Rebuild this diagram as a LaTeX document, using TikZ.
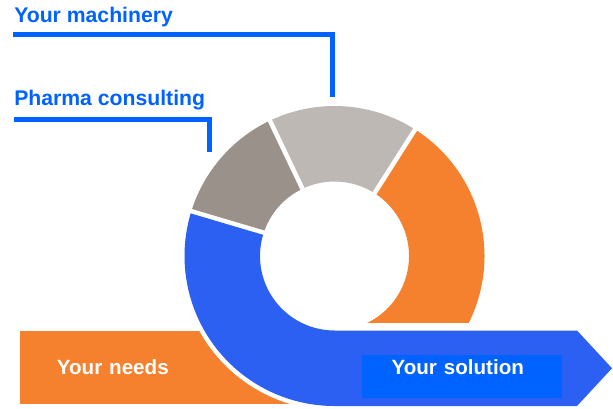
\documentclass[tikz,border=0pt]{standalone}
\usepackage{fontspec}
\setmainfont{Liberation Sans}
\usepackage{tikz}
\usetikzlibrary{calc}
\definecolor{needorange}{HTML}{F5812E}
\definecolor{bandblue}{HTML}{2B60F3}
\definecolor{brightblue}{HTML}{0062FF}
\definecolor{darkstone}{HTML}{9A918A}
\definecolor{lightstone}{HTML}{BDB8B3}
\tikzstyle{heading} = [anchor=base west, inner sep=0pt, text=brightblue, font=\fontsize{15.9pt}{18pt}\selectfont\bfseries]
\tikzstyle{lead} = [draw=brightblue, line width=3.4pt, line cap=butt, miter limit=4]
\tikzstyle{gap} = [draw=white, line width=3.4pt]
\tikzstyle{tab} = [text=white, font=\fontsize{15.45pt}{18pt}\selectfont\bfseries]

\begin{document}
\begin{tikzpicture}[x=0.75pt, y=0.75pt]
  \useasboundingbox (0,0) rectangle (613,408);
  \coordinate (hub) at (334.5,152);
  % left tab
  \node (needs) at (20,40.5) [tab, anchor=west, fill=needorange, inner xsep=27.5pt, inner ysep=0pt,
    text width=177.45pt, align=left, text height=11.1pt, text depth=0pt, minimum height=54.75pt] {Your needs};
  % ring
  \fill[darkstone] ($(hub)+(163.5:150)$) arc[start angle=163.5, end angle=115.5, radius=150]
    -- ($(hub)+(115.5:74.5)$) arc[start angle=115.5, end angle=163.5, radius=74.5] -- cycle;
  \fill[lightstone] ($(hub)+(115.5:150)$) arc[start angle=115.5, end angle=57.5, radius=150]
    -- ($(hub)+(57.5:74.5)$) arc[start angle=57.5, end angle=115.5, radius=74.5] -- cycle;
  \fill[needorange] ($(hub)+(57.5:150)$) arc[start angle=57.5, end angle=-26.5, radius=150]
    -- ($(hub)+(-64:74.5)$) arc[start angle=-64, end angle=57.5, radius=74.5] -- cycle;
  \draw[gap] ($(hub)+(115.5:70)$) -- ($(hub)+(115.5:156)$);
  \draw[gap] ($(hub)+(57.5:70)$) -- ($(hub)+(57.5:156)$);
  % blue band and arrow
  \fill[bandblue, preaction={draw=white, line width=6.75pt}] ($(hub)+(163.5:150)$)
    arc[start angle=163.5, end angle=270, radius=150]
    -- (577,2) -- (612,39.75) -- (577,77.5) -- (334.5,77.5)
    arc[start angle=270, end angle=163.5, radius=74.5] -- cycle;
  \node (solution) at (362,53) [tab, anchor=north west, fill=brightblue, inner sep=0pt,
    text width=150pt, align=left, text height=14.5pt, text depth=17.25pt] {\hspace*{22pt}Your solution};
  % labels
  \node (machinery) at (14,385.3) [heading] {Your machinery};
  \node (pharma) at (14,303) [heading] {Pharma consulting};
  \coordinate (machinery end) at (332.3,311.3);
  \coordinate (pharma end) at (209.5,256.3);
  \draw[lead] ($(machinery.base west)+(-0.7,-11.6)$) -| (machinery end);
  \draw[lead] ($(pharma.base west)+(0,-14.3)$) -| (pharma end);
\end{tikzpicture}
\end{document}
